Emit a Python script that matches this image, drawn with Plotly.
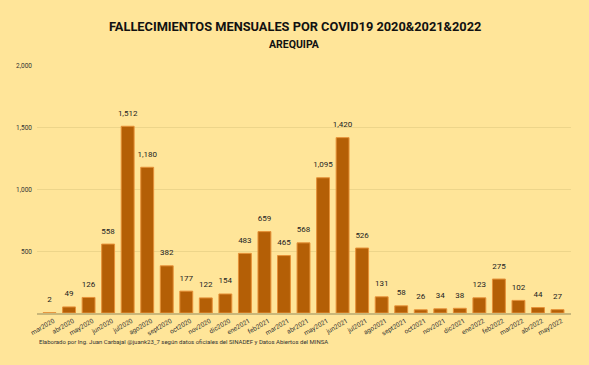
import plotly.graph_objects as go

months = ["mar2020", "abr2020", "may2020", "jun2020", "jul2020", "ago2020", "sept2020",
          "oct2020", "nov2020", "dic2020", "ene2021", "feb2021", "mar2021", "abr2021",
          "may2021", "jun2021", "jul2021", "ago2021", "sept2021", "oct2021", "nov2021",
          "dic2021", "ene2022", "feb2022", "mar2022", "abr2022", "may2022"]
deaths = [2, 49, 126, 558, 1512, 1180, 382, 177, 122, 154, 483, 659, 465, 568,
          1095, 1420, 526, 131, 58, 26, 34, 38, 123, 275, 102, 44, 27]
y_ticks = [500, 1000, 1500, 2000]
y_tick_labels = ["500", "1,000", "1,500", "2,000"]

bg = "#FFE599"
xs = list(range(len(months)))
fig = go.Figure()
fig.add_trace(go.Bar(
    x=xs, y=deaths,
    marker=dict(color="#B45F06", line=dict(color="#E69138", width=1)),
    width=0.66, hoverinfo="skip",
))
fig.add_trace(go.Scatter(
    x=xs, y=deaths, mode="markers+text",
    marker=dict(size=12, color="rgba(0,0,0,0)"),
    text=[f"{v:,}" for v in deaths], textposition="top center",
    textfont=dict(family="Roboto, Arial", size=8, color="#222222"),
    cliponaxis=False, hoverinfo="skip",
))
fig.update_layout(
    width=589, height=365,
    paper_bgcolor=bg, plot_bgcolor=bg,
    margin=dict(l=37, r=18, t=66, b=52, autoexpand=False),
    showlegend=False,
    font=dict(family="Roboto, Arial", color="#333333"),
)
fig.add_annotation(
    text="<b>FALLECIMIENTOS MENSUALES POR COVID19 2020&2021&2022</b>",
    xref="paper", yref="paper", x=0.483, xanchor="center",
    y=1 + (66 - 26) / 247, yanchor="middle",
    showarrow=False, font=dict(family="Roboto, Arial", size=12.8, color="#111111"),
)
fig.add_annotation(
    text="<b>AREQUIPA</b>",
    xref="paper", yref="paper", x=0.483, xanchor="center",
    y=1 + (66 - 45) / 247, yanchor="middle",
    showarrow=False, font=dict(family="Roboto, Arial", size=10.5, color="#111111"),
)
fig.update_xaxes(
    range=[-0.64, 26.69], automargin=False,
    tickmode="array", tickvals=xs, ticktext=months,
    tickangle=-30, tickfont=dict(size=6.5, color="#333333"),
    showgrid=False, zeroline=False, showline=True, linecolor="#C9B77A", linewidth=1.5,
    ticks="", ticklabelshift=4,
)
fig.update_yaxes(
    range=[0, 2000], automargin=False, tickmode="array", tickvals=y_ticks, ticktext=y_tick_labels,
    tickfont=dict(size=6.5, color="#333333"),
    showgrid=True, gridcolor="#EDD58A", gridwidth=1, zeroline=False, ticks="",
    ticklabelstandoff=4,
)
fig.add_annotation(
    text="Elaborado por Ing. Juan Carbajal @juank23_7 según datos oficiales del SINADEF y Datos Abiertos del MINSA",
    xref="paper", yref="paper", x=0, y=-0.117, xanchor="left", yanchor="middle",
    showarrow=False, font=dict(family="Roboto, Arial", size=6, color="#333333"),
)
fig.write_html("out.html", config={"displayModeBar": False},
               post_script="document.body.style.margin='0';document.body.style.backgroundColor='#FFE599';")
